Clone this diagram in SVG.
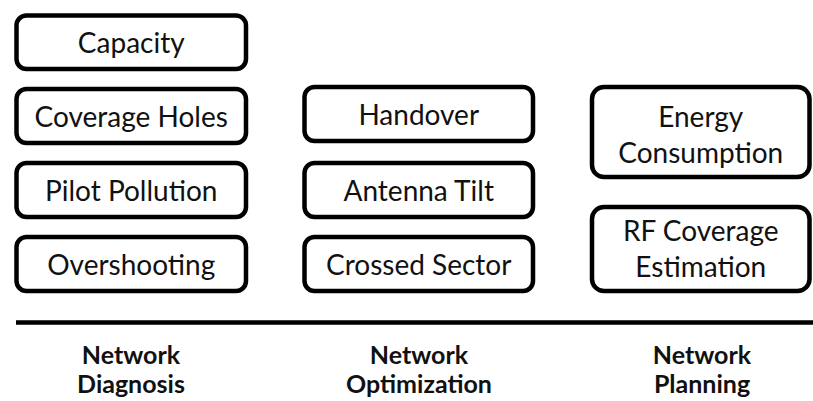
<svg xmlns="http://www.w3.org/2000/svg" width="813" height="401" viewBox="0 0 813 401">
  <style>
    .box { fill: #ffffff; stroke: #000000; stroke-width: 4.5; }
    .lbl { font-family: Lato, "Liberation Sans", sans-serif; font-size: 28px; fill: #111111; text-anchor: middle; }
    .cat { font-family: Lato, "Liberation Sans", sans-serif; font-size: 25px; font-weight: bold; fill: #111111; text-anchor: middle; }
    .axis { stroke: #000000; stroke-width: 4.5; }
  </style>
  <rect width="813" height="401" fill="#ffffff"/>

  <!-- Network Diagnosis column -->
  <g id="capacity">
    <rect class="box" x="16.5" y="15.5" width="229.5" height="53.5" rx="10"/>
    <text class="lbl" x="131.25" y="53">Capacity</text>
  </g>
  <g id="coverage-holes">
    <rect class="box" x="16.5" y="89" width="229.5" height="54" rx="10"/>
    <text class="lbl" x="131.25" y="127">Coverage Holes</text>
  </g>
  <g id="pilot-pollution">
    <rect class="box" x="16.5" y="163" width="229.5" height="54" rx="10"/>
    <text class="lbl" x="131.25" y="201">Pilot Pollution</text>
  </g>
  <g id="overshooting">
    <rect class="box" x="16.5" y="237" width="229.5" height="54" rx="10"/>
    <text class="lbl" x="131.25" y="275">Overshooting</text>
  </g>

  <!-- Network Optimization column -->
  <g id="handover">
    <rect class="box" x="304.5" y="87" width="228.5" height="54" rx="10"/>
    <text class="lbl" x="418.75" y="125">Handover</text>
  </g>
  <g id="antenna-tilt">
    <rect class="box" x="304.5" y="163" width="228.5" height="54" rx="10"/>
    <text class="lbl" x="418.75" y="201">Antenna Tilt</text>
  </g>
  <g id="crossed-sector">
    <rect class="box" x="304.5" y="237" width="228.5" height="54" rx="10"/>
    <text class="lbl" x="418.75" y="275">Crossed Sector</text>
  </g>

  <!-- Network Planning column -->
  <g id="energy-consumption">
    <rect class="box" x="592" y="87" width="217.5" height="90" rx="12"/>
    <text class="lbl" x="700.75" y="127">Energy</text>
    <text class="lbl" x="700.75" y="162.5">Consumption</text>
  </g>
  <g id="rf-coverage-estimation">
    <rect class="box" x="592" y="207" width="217.5" height="84" rx="12"/>
    <text class="lbl" x="700.75" y="241">RF Coverage</text>
    <text class="lbl" x="700.75" y="276.5">Estimation</text>
  </g>

  <!-- baseline rule and category captions -->
  <g id="connectors">
    <line class="axis" x1="16" y1="322.5" x2="813" y2="322.5"/>
  </g>
  <g id="categories">
    <text class="cat" x="131" y="364">Network</text>
    <text class="cat" x="131" y="393">Diagnosis</text>
    <text class="cat" x="419" y="364">Network</text>
    <text class="cat" x="419" y="393">Optimization</text>
    <text class="cat" x="702" y="364">Network</text>
    <text class="cat" x="702" y="393">Planning</text>
  </g>
</svg>
